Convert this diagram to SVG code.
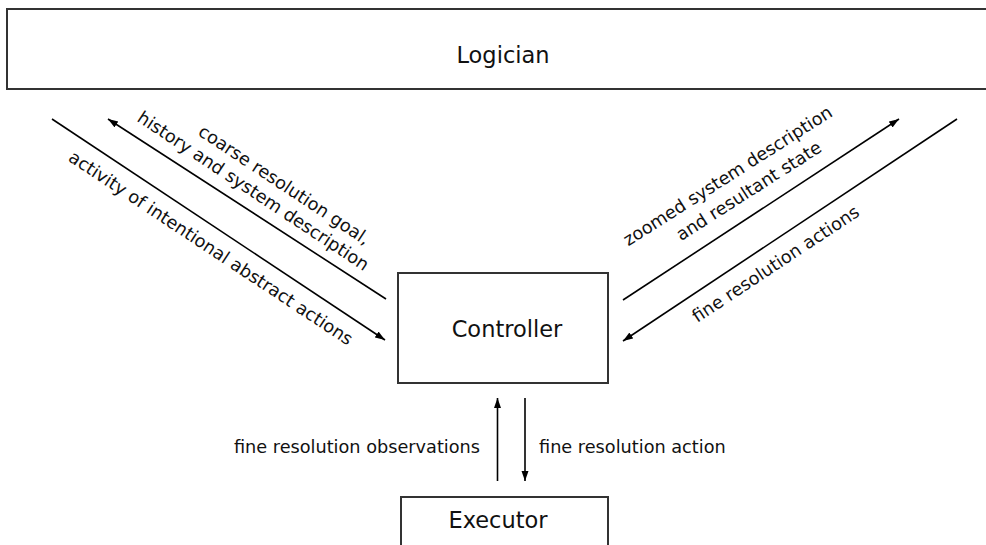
<svg xmlns="http://www.w3.org/2000/svg" width="986" height="545" viewBox="0 0 986 545">
<defs>
<marker id="arr" markerUnits="userSpaceOnUse" markerWidth="11" markerHeight="8" refX="10" refY="3.5" orient="auto">
<path d="M0,0 L10,3.5 L0,7 z" fill="#000"/>
</marker>
<style>
.box{fill:#fff;stroke:#333;stroke-width:2}
.title{font-family:"DejaVu Sans",sans-serif;font-size:22.5px;fill:#111;text-anchor:middle}
.lbl{font-family:"DejaVu Sans",sans-serif;font-size:17.7px;fill:#111}
.mid{text-anchor:middle}
.ln{stroke:#000;stroke-width:1.6;fill:none}
</style>
</defs>
<rect width="986" height="545" fill="#fff"/>
<g id="logician">
<rect class="box" x="7" y="9" width="995" height="80"/>
<text class="title" x="503" y="63">Logician</text>
</g>
<g id="controller">
<rect class="box" x="398" y="273" width="210" height="110"/>
<text class="title" x="507" y="337">Controller</text>
</g>
<g id="executor">
<rect class="box" x="401" y="497" width="207" height="70"/>
<text class="title" x="498" y="528">Executor</text>
</g>
<g id="connectors">
<line class="ln" x1="52" y1="119" x2="385" y2="340" marker-end="url(#arr)"/>
<line class="ln" x1="386" y1="299" x2="108" y2="119" marker-end="url(#arr)"/>
<line class="ln" x1="623" y1="300" x2="899" y2="119" marker-end="url(#arr)"/>
<line class="ln" x1="957" y1="119" x2="623" y2="341" marker-end="url(#arr)"/>
<line class="ln" x1="497.5" y1="481" x2="497.5" y2="398" marker-end="url(#arr)"/>
<line class="ln" x1="525" y1="398" x2="525" y2="481" marker-end="url(#arr)"/>
</g>
<g id="labels">
<text class="lbl mid" transform="translate(281,190) rotate(33.5)">coarse resolution goal,</text>
<text class="lbl mid" transform="translate(250,196) rotate(33.5)">history and system description</text>
<text class="lbl mid" transform="translate(207.5,253) rotate(33.5)">activity of intentional abstract actions</text>
<text class="lbl mid" transform="translate(731,181) rotate(-32.5)">zoomed system description</text>
<text class="lbl mid" transform="translate(752,196) rotate(-32.5)">and resultant state</text>
<text class="lbl mid" transform="translate(779,269) rotate(-33.5)">fine resolution actions</text>
<text class="lbl" x="480" y="453" text-anchor="end">fine resolution observations</text>
<text class="lbl" x="539" y="453">fine resolution action</text>
</g>
</svg>
